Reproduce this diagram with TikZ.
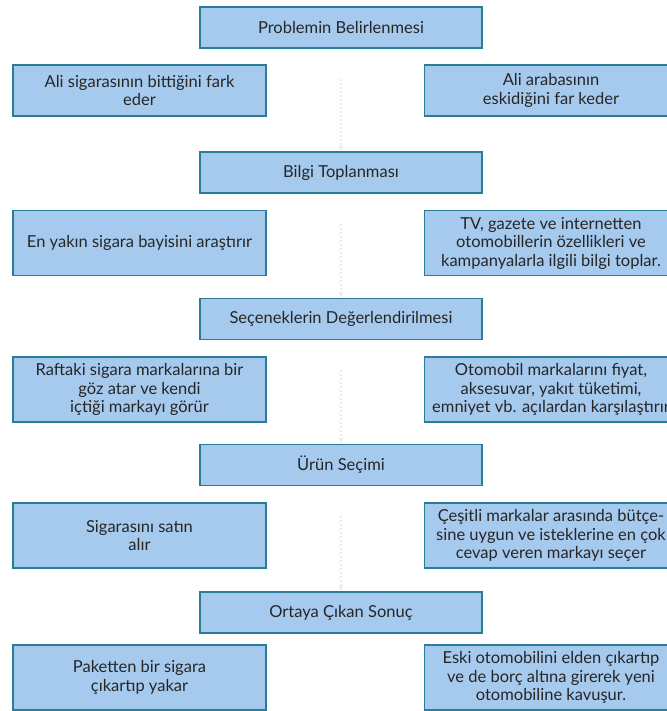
\documentclass[tikz,border=0pt]{standalone}
\usepackage{fontspec}
\setmainfont{Lato}
\usepackage{xcolor}
\usetikzlibrary{arrows.meta,positioning}
\definecolor{kbfill}{HTML}{A6CAEE}
\definecolor{kbedge}{HTML}{2B7C97}
\definecolor{kbtext}{HTML}{262626}
\tikzset{
  stageBox/.style={draw=kbedge, fill=kbfill, line width=1.6pt, align=center, inner sep=2pt,
    minimum width=282pt, minimum height=41pt, text=kbtext, font=\fontsize{16.5}{18.5}\selectfont},
  noteBox/.style={draw=kbedge, fill=kbfill, line width=1.6pt, align=center, inner sep=2pt,
    minimum width=253pt, minimum height=65pt, text=kbtext, font=\fontsize{16.5}{18.5}\selectfont},
  ghostArrow/.style={-{Stealth[length=2.2mm]}, line width=2pt, draw=black!8, dash pattern=on 2pt off 2pt}
}
\begin{document}
\begin{tikzpicture}[x=1pt,y=1pt]
  \useasboundingbox (0,0) rectangle (666,711);
  % stages in the middle
  \node[stageBox] (prob) at (341,683.5) {Problemin Belirlenmesi};
  \node[stageBox] (bilgi) at (341,538.5) {Bilgi Toplanması};
  \node[stageBox] (secenek) at (341,392) {Seçeneklerin Değerlendirilmesi};
  \node[stageBox] (urun) at (341,246) {Ürün Seçimi};
  \node[stageBox] (sonuc) at (341,98.5) {Ortaya Çıkan Sonuç};
  % left: sigara, right: otomobil
  \node[noteBox, minimum height=51pt] (probL) at (139.5,620.5) {Ali sigarasının bittiğini fark\\ eder};
  \node[noteBox, minimum height=51pt] (probR) at (551,620.5) {Ali arabasının\\ eskidiğini far keder};
  \node[noteBox] (bilgiL) at (139.5,468) {En yakın sigara bayisini araştırır};
  \node[noteBox] (bilgiR) at (551,468) {TV, gazete ve internetten\\ otomobillerin özellikleri ve\\ kampanyalarla ilgili bilgi toplar.};
  \node[noteBox] (secenekL) at (139.5,321.5) {Raftaki sigara markalarına bir\\ göz atar ve kendi\\ içtiği markayı görür};
  \node[noteBox] (secenekR) at (551,321.5) {Otomobil markalarını fiyat,\\ aksesuvar, yakıt tüketimi,\\ emniyet vb. açılardan karşılaştırır};
  \node[noteBox] (urunL) at (139.5,175.5) {Sigarasını satın\\ alır};
  \node[noteBox] (urunR) at (551,175.5) {Çeşitli markalar arasında bütçe-\\ sine uygun ve isteklerine en çok\\ cevap veren markayı seçer};
  \node[noteBox] (sonucL) at (139.5,33.5) {Paketten bir sigara\\ çıkartıp yakar};
  \node[noteBox] (sonucR) at (551,33.5) {Eski otomobilini elden çıkartıp\\ ve de borç altına girerek yeni\\ otomobiline kavuşur.};
  % faint arrows between stages
  \draw[ghostArrow] (prob.south) ++(0,-30pt) -- (bilgi.north);
  \draw[ghostArrow] (bilgi.south) ++(0,-30pt) -- (secenek.north);
  \draw[ghostArrow] (secenek.south) ++(0,-30pt) -- (urun.north);
  \draw[ghostArrow] (urun.south) ++(0,-30pt) -- (sonuc.north);
\end{tikzpicture}
\end{document}
